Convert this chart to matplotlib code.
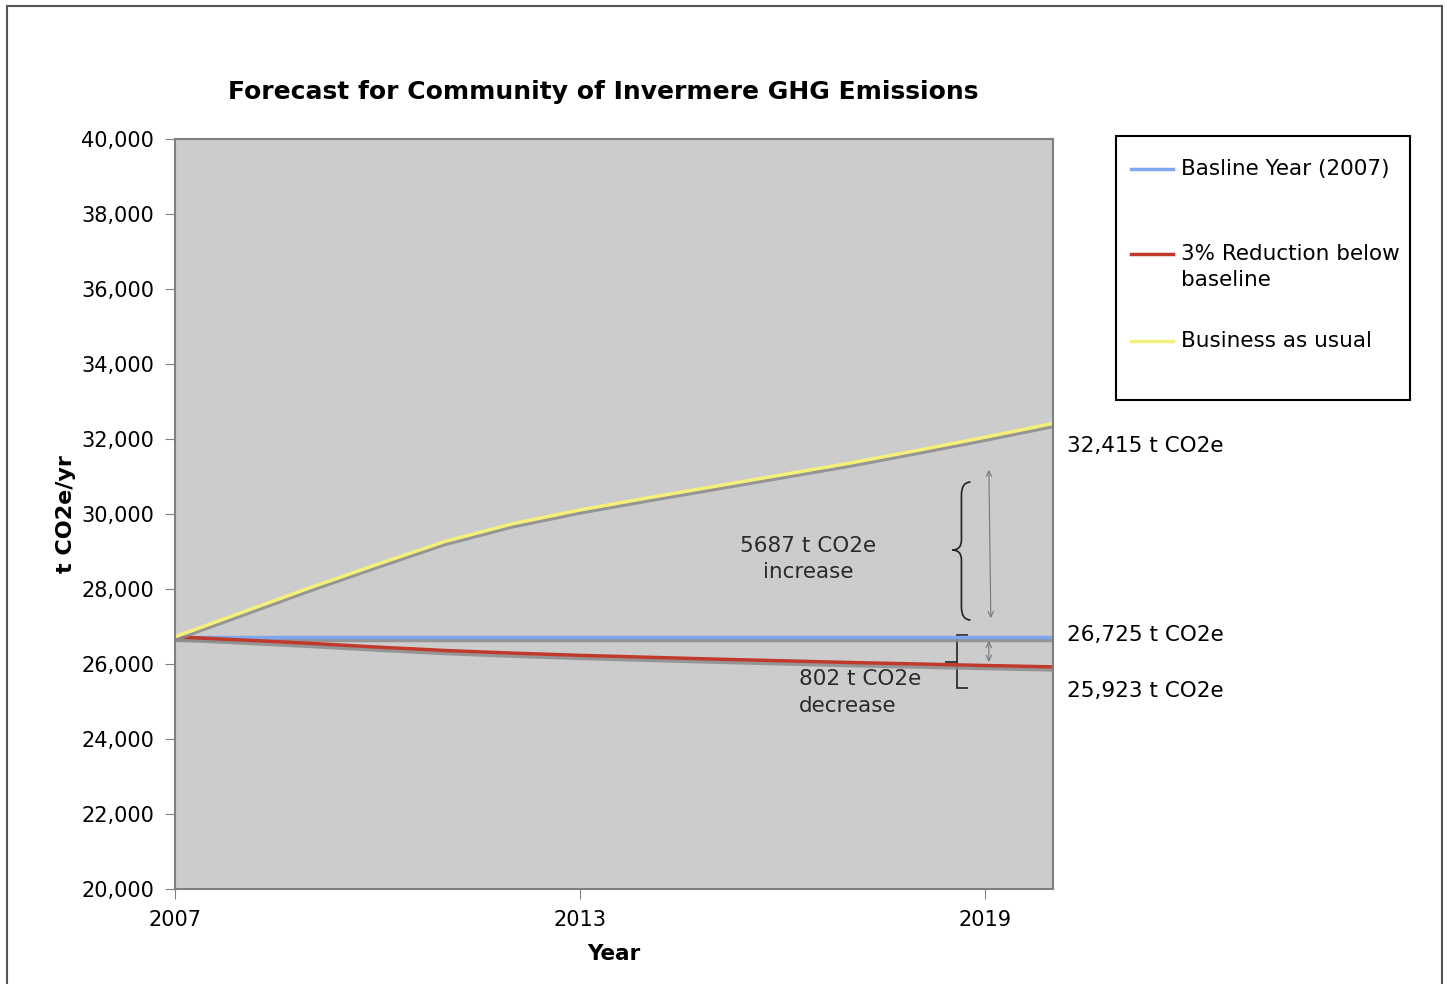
import matplotlib
matplotlib.use('Agg')
import matplotlib.pyplot as plt
import matplotlib.patheffects as pe
from matplotlib.patches import Rectangle, PathPatch
from matplotlib.path import Path
from matplotlib.lines import Line2D

# Data (t CO2e/yr)
years = [2007, 2008, 2009, 2010, 2011, 2012, 2013, 2014, 2015, 2016, 2017, 2018, 2019, 2020]
baseline = [26725] * 14
reduction = [26725, 26640, 26550, 26450, 26360, 26290, 26230, 26180, 26130, 26085, 26040, 26000, 25960, 25923]
bau = [26725, 27380, 28035, 28660, 29270, 29740, 30110, 30430, 30740, 31050, 31360, 31700, 32050, 32415]

series_labels = ['Basline Year (2007)', '3% Reduction below\nbaseline', 'Business as usual']
series_colors = ['#7fa6f0', '#c0392b', '#f5f07a']
end_labels = ['32,415 t CO2e', '26,725 t CO2e', '25,923 t CO2e']

W, H = 1447, 984
FS = 15.5

fig = plt.figure(figsize=(W / 100, H / 100), dpi=100)
ax = fig.add_axes([175 / W, 1 - 889 / H, 878 / W, 750 / H])
ax.set_facecolor('#cccccc')

shadow = [pe.SimpleLineShadow(offset=(0, -2.2), shadow_color='#8c8c8c', alpha=0.85), pe.Normal()]
for vals, col in zip([baseline, reduction, bau], series_colors):
    ax.plot(years, vals, color=col, linewidth=2.5, path_effects=shadow,
            solid_capstyle='butt', solid_joinstyle='round')

ax.set_xlim(2007, 2020)
ax.set_ylim(20000, 40000)
ax.set_xticks([2007, 2013, 2019])
ax.set_xticklabels(['2007', '2013', '2019'])
ax.set_yticks(range(20000, 40001, 2000))
ax.set_yticklabels([f'{v:,}' for v in range(20000, 40001, 2000)])
ax.tick_params(axis='both', direction='out', length=7, color='#808080', labelsize=15, pad=8)
for s in ax.spines.values():
    s.set_color('#808080')
    s.set_linewidth(1.5)

ax.set_xlabel('Year', fontsize=FS, fontweight='bold', labelpad=10)
ax.set_ylabel('t CO2e/yr', fontsize=16, fontweight='bold', labelpad=4)
fig.text(603 / W, 1 - 92 / H, 'Forecast for Community of Invermere GHG Emissions',
         ha='center', va='center', fontsize=18, fontweight='bold')

# legend box drawn by hand to match the spacing of the original
fig.patches.append(Rectangle((1116 / W, 1 - 400 / H), 294 / W, 264 / H, transform=fig.transFigure,
                             fill=False, edgecolor='black', lw=1.5))
for ypx, lab, col in zip([169, 254, 341], series_labels, series_colors):
    fig.add_artist(Line2D([1131 / W, 1173 / W], [1 - ypx / H] * 2, color=col, lw=2.5,
                          transform=fig.transFigure))
    fig.text(1181 / W, 1 - (ypx - 10) / H, lab, fontsize=FS, ha='left', va='top', linespacing=1.4)

# end-of-line value labels
for val, txt in zip([bau[-1] - 600, baseline[-1] + 50, reduction[-1] - 640], end_labels):
    ax.text(2020.2, val, txt, fontsize=FS, va='center', ha='left', clip_on=False)

# annotation texts
ax.text(2016.38, 28800, '5687 t CO2e\nincrease', fontsize=FS, ha='center', va='center',
        color='#2a2a2a', linespacing=1.4)
ax.text(2016.24, 25240, '802 t CO2e\ndecrease', fontsize=FS, ha='left', va='center',
        color='#2a2a2a', linespacing=1.4)

# double arrows
ax.annotate('', xy=(2019.05, 31250), xytext=(2019.08, 27150),
            arrowprops=dict(arrowstyle='<->', color='#777777', lw=0.8))
ax.annotate('', xy=(2019.05, 26690), xytext=(2019.05, 25980),
            arrowprops=dict(arrowstyle='<->', color='#777777', lw=0.8))


def px(x, y):
    return (2007 + (x - 175) / 67.5, 40000 - (y - 139) / 0.0375)


# curly brace
brace = [(970, 482), (961, 482), (961, 495), (961, 495),
         (961, 540), (961, 550), (952, 550), (961, 550),
         (961, 560), (961, 607), (961, 620), (970, 620)]
codes = [Path.MOVETO, Path.CURVE3, Path.CURVE3, Path.LINETO,
         Path.LINETO, Path.CURVE3, Path.CURVE3, Path.CURVE3,
         Path.CURVE3, Path.LINETO, Path.CURVE3, Path.CURVE3]
ax.add_patch(PathPatch(Path([px(*p) for p in brace], codes), fill=False, edgecolor='#222222', lw=1.2))

# square bracket
bracket = [(968, 635), (957, 635), (957, 688), (968, 688)]
ax.add_patch(PathPatch(Path([px(*p) for p in bracket]), fill=False, edgecolor='#222222', lw=1.2))
ax.add_patch(PathPatch(Path([px(945, 662), px(957, 662)]), fill=False, edgecolor='#222222', lw=1.2))

# outer chart frame
fig.patches.append(Rectangle((7 / W, -0.01), 1435 / W, 1 - 6 / H + 0.01, transform=fig.transFigure,
                             fill=False, edgecolor='#555555', lw=1.5))

fig.savefig('out.png', dpi=100)
